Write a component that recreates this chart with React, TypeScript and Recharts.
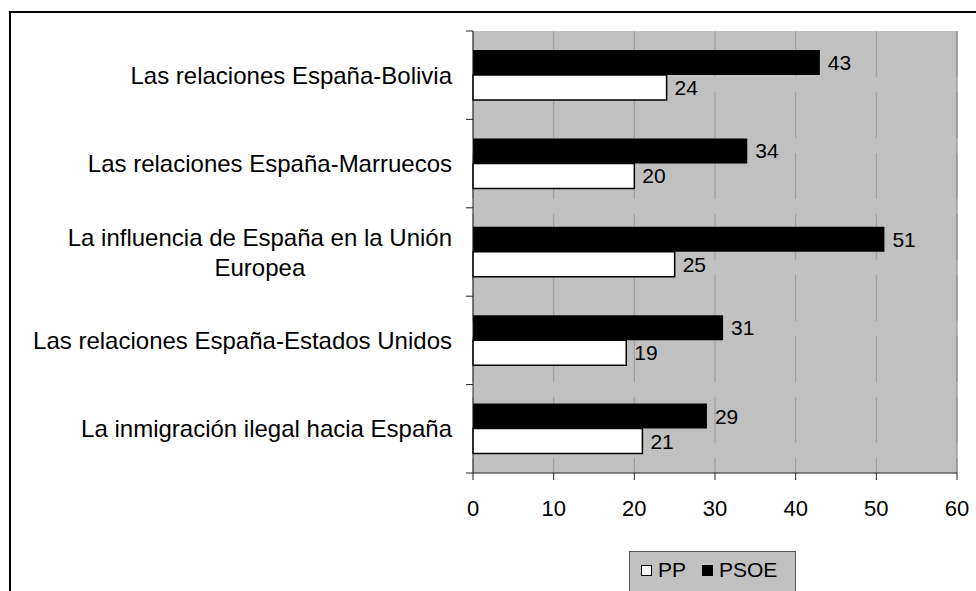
import { BarChart, Bar, XAxis, YAxis, CartesianGrid, ReferenceLine, LabelList } from "recharts";

const categories = [
  "Las relaciones España-Bolivia",
  "Las relaciones España-Marruecos",
  "La influencia de España en la Unión\nEuropea",
  "Las relaciones España-Estados Unidos",
  "La inmigración ilegal hacia España",
];
const ppValues = [24, 20, 25, 19, 21];
const psoeValues = [43, 34, 51, 31, 29];
const xTicks = [0, 10, 20, 30, 40, 50, 60];

const FONT = "'Liberation Sans', Arial, sans-serif";
const W = 976;
const H = 591;
const PLOT_TOP = 31;
const PLOT_BOTTOM = 473;
const BAND = (PLOT_BOTTOM - PLOT_TOP) / categories.length;
const CAT_SIZE = 24;

const data = categories.map((name, i) => ({ name, PP: ppValues[i], PSOE: psoeValues[i] }));

// measure a line so wrapped labels can be centred under the longest line
const measure = (txt: string, size: number) => {
  const ctx = document.createElement("canvas").getContext("2d");
  if (!ctx) return txt.length * size * 0.5;
  ctx.font = `${size}px 'Liberation Sans', Arial, sans-serif`;
  return ctx.measureText(txt).width;
};

const CategoryTick = ({ x, y, payload, index }: any) => {
  const lines = String(payload.value).split("\n");
  const axisX = x + 21;
  const lineH = 30;
  const startY = y - ((lines.length - 1) * lineH) / 2;
  const longest = Math.max(...lines.map((l) => measure(l, CAT_SIZE)));
  const last = index === categories.length - 1;
  return (
    <g>
      <line x1={axisX - 7} x2={axisX} y1={y - BAND / 2} y2={y - BAND / 2} stroke="#222" />
      {last && <line x1={axisX - 7} x2={axisX} y1={y + BAND / 2} y2={y + BAND / 2} stroke="#222" />}
      {lines.map((l, i) => (
        <text
          key={i}
          x={lines.length > 1 ? x - longest / 2 : x}
          y={startY + i * lineH}
          dy="0.36em"
          textAnchor={lines.length > 1 ? "middle" : "end"}
          fontSize={CAT_SIZE}
          fontFamily={FONT}
          fill="#000"
        >
          {l}
        </text>
      ))}
    </g>
  );
};

const legendItems = [
  { name: "PP", fill: "#fff" },
  { name: "PSOE", fill: "#000" },
];

export default function App() {
  return (
    <div style={{ position: "fixed", left: 0, top: 0, width: W, height: H, overflow: "hidden", background: "#fff", fontFamily: FONT }}>
      <div style={{ position: "absolute", left: 9, top: 11, width: 1100, height: 1100, border: "2px solid #000" }} />
      <div style={{ position: "absolute", left: 0, top: 0 }}>
        <BarChart
          width={W}
          height={H}
          data={data}
          layout="vertical"
          margin={{ top: PLOT_TOP, right: W - 957, left: 0, bottom: H - PLOT_BOTTOM - 30 }}
          barGap={0}
        >
          <CartesianGrid
            horizontal={false}
            stroke="#999"
            strokeDasharray="46 15"
            fill="#c0c0c0"
            fillOpacity={1}
          />
          <XAxis
            type="number"
            domain={[0, 60]}
            ticks={xTicks}
            height={30}
            tickSize={7}
            tickMargin={20}
            stroke="#222"
            tick={{ fontSize: 22, fontFamily: FONT, fill: "#000" }}
          />
          <XAxis
            xAxisId="top"
            orientation="top"
            type="number"
            domain={[0, 60]}
            height={0}
            tick={false}
            tickLine={false}
            axisLine={{ stroke: "#808080" }}
          />
          <YAxis
            type="category"
            dataKey="name"
            width={473}
            tickSize={7}
            tickMargin={14}
            tickLine={false}
            axisLine={{ stroke: "#222" }}
            tick={<CategoryTick />}
            interval={0}
          />
          <ReferenceLine x={60} stroke="#808080" />
          <Bar dataKey="PSOE" name="PSOE" fill="#000" barSize={25} isAnimationActive={false}>
            <LabelList dataKey="PSOE" position="right" offset={8} fontSize={21} fontFamily={FONT} fill="#000" />
          </Bar>
          <Bar dataKey="PP" name="PP" fill="#fff" stroke="#000" strokeWidth={1.5} barSize={25} isAnimationActive={false}>
            <LabelList dataKey="PP" position="right" offset={8} fontSize={21} fontFamily={FONT} fill="#000" />
          </Bar>
        </BarChart>
      </div>
      <div
        style={{
          position: "absolute",
          left: 629,
          top: 551,
          width: 167,
          height: 60,
          background: "#c0c0c0",
          border: "1px solid #555",
          display: "flex",
          alignItems: "flex-start",
          paddingTop: 6,
          paddingLeft: 11,
          boxSizing: "border-box",
          fontSize: 21,
          lineHeight: "24px",
        }}
      >
        {legendItems.map((it) => (
          <div key={it.name} style={{ display: "flex", alignItems: "center", marginRight: 16 }}>
            <span
              style={{
                display: "inline-block",
                width: 9,
                height: 9,
                background: it.fill,
                border: "1px solid #000",
                marginRight: 6,
              }}
            />
            <span>{it.name}</span>
          </div>
        ))}
      </div>
    </div>
  );
}
